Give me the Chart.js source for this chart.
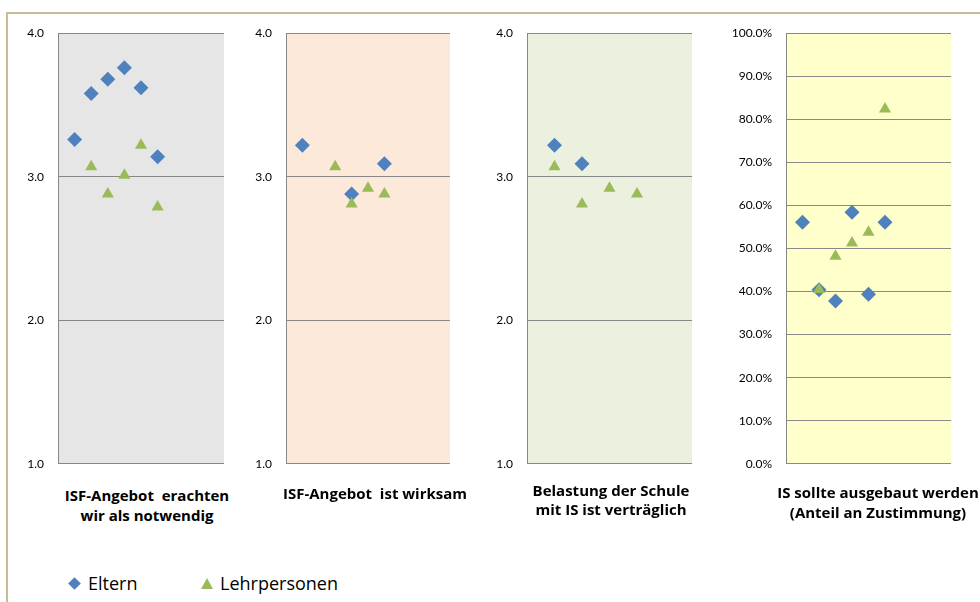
<!DOCTYPE html>
<html lang="de">
<head>
<meta charset="utf-8">
<title>ISF Befragung</title>
<script src="https://cdn.jsdelivr.net/npm/chart.js@4.4.1/dist/chart.umd.min.js"></script>
<style>
  html, body { margin: 0; padding: 0; background: #fff; }
  body { width: 980px; height: 602px; position: relative; overflow: hidden; font-family: "Open Sans", Lato, sans-serif; }
  .frame { position: absolute; left: 6px; top: 12px; width: 1100px; height: 700px; border-left: 2px solid #c4bd97; border-top: 2px solid #c4bd97; }
  .panel { position: absolute; top: 12px; height: 473px; }
  .cat { position: absolute; font-weight: bold; font-size: 15px; color: #000; text-align: center; white-space: nowrap; transform: translateX(-50%); }
  .legend { position: absolute; top: 571px; font-size: 18px; color: #000; white-space: nowrap; }
  .diamond { position: absolute; width: 9px; height: 9px; background: #4f81bd; transform: rotate(45deg); }
  .triangle { position: absolute; width: 0; height: 0; border-left: 6px solid transparent; border-right: 6px solid transparent; border-bottom: 11px solid #9bbb59; }
</style>
</head>
<body>
<div class="frame"></div>

<div class="panel" style="left:10px;width:214px"><canvas id="notwendig"></canvas></div>
<div class="panel" style="left:240px;width:210px"><canvas id="wirksam"></canvas></div>
<div class="panel" style="left:480px;width:212px"><canvas id="vertraeglich"></canvas></div>
<div class="panel" style="left:720px;width:231px"><canvas id="ausbau"></canvas></div>

<div class="cat" style="left:147px;top:485px;line-height:20px">ISF-Angebot&nbsp; erachten<br>wir als notwendig</div>
<div class="cat" style="left:375px;top:483px;line-height:20px">ISF-Angebot&nbsp; ist wirksam</div>
<div class="cat" style="left:611px;top:481px;line-height:19px">Belastung der Schule<br>mit IS ist verträglich</div>
<div class="cat" style="left:878px;top:482px;line-height:20px">IS sollte ausgebaut werden<br>(Anteil an Zustimmung)</div>

<span class="diamond" style="left:70px;top:579px"></span>
<span class="legend" style="left:88px">Eltern</span>
<span class="triangle" style="left:201px;top:578px"></span>
<span class="legend" style="left:220px">Lehrpersonen</span>

<script>
// Mittelwerte je Schule (1 = trifft nicht zu ... 4 = trifft zu)
const schools = [1, 2, 3, 4, 5, 6];
const schoolsShort = [1, 2, 3, 4];

const notwendigEltern = [3.26, 3.58, 3.68, 3.76, 3.62, 3.14];
const notwendigLehrer = [null, 3.07, 2.88, 3.01, 3.22, 2.79];

const wirksamEltern = [3.22, null, null, 2.88, null, 3.09];
const wirksamLehrer = [null, null, 3.07, 2.81, 2.92, 2.88];

const vertraeglichEltern = [3.22, 3.09, null, null];
const vertraeglichLehrer = [3.07, 2.81, 2.92, 2.88];

// Anteil Zustimmung
const ausbauEltern = [0.561, 0.404, 0.378, 0.584, 0.394, 0.561];
const ausbauLehrer = [null, 0.405, 0.482, 0.513, 0.538, 0.824];

const ELTERN_COLOR = "#4f81bd";
const LEHRER_COLOR = "#9bbb59";
const GRID_COLOR = "#888888";

Chart.defaults.font.family = "Lato, 'Open Sans', sans-serif";
Chart.defaults.color = "#000";

const plotBackground = {
  id: "plotBackground",
  beforeDraw(chart, args, opts) {
    const { ctx, chartArea } = chart;
    ctx.save();
    ctx.fillStyle = opts.color;
    ctx.fillRect(chartArea.left, chartArea.top, chartArea.width, chartArea.height);
    ctx.restore();
  },
};

function toPoints(xs, values) {
  const pts = [];
  values.forEach((v, i) => {
    if (v !== null) pts.push({ x: xs[i], y: v });
  });
  return pts;
}

function renderPanel(id, cfg) {
  const canvas = document.getElementById(id);
  const ctx = canvas.getContext("2d");

  return new Chart(ctx, {
    type: "scatter",
    data: {
      datasets: [
        {
          label: "Eltern",
          data: toPoints(cfg.xs, cfg.eltern),
          pointStyle: "rectRot",
          pointRadius: 7.5,
          pointBorderWidth: 0,
          backgroundColor: ELTERN_COLOR,
          borderColor: ELTERN_COLOR,
          order: 1,
        },
        {
          label: "Lehrpersonen",
          data: toPoints(cfg.xs, cfg.lehrer),
          pointStyle: "triangle",
          pointRadius: 7,
          pointBorderWidth: 0,
          backgroundColor: LEHRER_COLOR,
          borderColor: LEHRER_COLOR,
          order: 0,
        },
      ],
    },
    options: {
      responsive: true,
      maintainAspectRatio: false,
      animation: false,
      events: [],
      layout: {
        autoPadding: false,
        padding: 0,
      },
      plugins: {
        legend: { display: false },
        tooltip: { enabled: false },
        plotBackground: { color: cfg.background },
      },
      scales: {
        x: {
          type: "linear",
          display: false,
          min: 0,
          max: cfg.xMax,
        },
        y: {
          min: cfg.yMin,
          max: cfg.yMax,
          afterFit(scale) {
            scale.width = cfg.axisWidth;
          },
          ticks: {
            stepSize: cfg.step,
            padding: 14,
            font: { size: 12 },
            callback: cfg.format,
          },
          grid: {
            color: GRID_COLOR,
            drawTicks: false,
          },
          border: { display: true, color: GRID_COLOR },
        },
      },
    },
    plugins: [plotBackground],
  });
}

const meanFormat = (v) => v.toFixed(1);
const shareFormat = (v) => (v * 100).toFixed(1) + "%";

renderPanel("notwendig", {
  xs: schools, eltern: notwendigEltern, lehrer: notwendigLehrer,
  xMax: 10, yMin: 1, yMax: 4, step: 1, format: meanFormat,
  axisWidth: 48, background: "#e6e6e6",
});

renderPanel("wirksam", {
  xs: schools, eltern: wirksamEltern, lehrer: wirksamLehrer,
  xMax: 10, yMin: 1, yMax: 4, step: 1, format: meanFormat,
  axisWidth: 46, background: "#fde9d9",
});

renderPanel("vertraeglich", {
  xs: schoolsShort, eltern: vertraeglichEltern, lehrer: vertraeglichLehrer,
  xMax: 6, yMin: 1, yMax: 4, step: 1, format: meanFormat,
  axisWidth: 47, background: "#ebf1de",
});

renderPanel("ausbau", {
  xs: schools, eltern: ausbauEltern, lehrer: ausbauLehrer,
  xMax: 10, yMin: 0, yMax: 1, step: 0.1, format: shareFormat,
  axisWidth: 66, background: "#ffffcc",
});
</script>
</body>
</html>
